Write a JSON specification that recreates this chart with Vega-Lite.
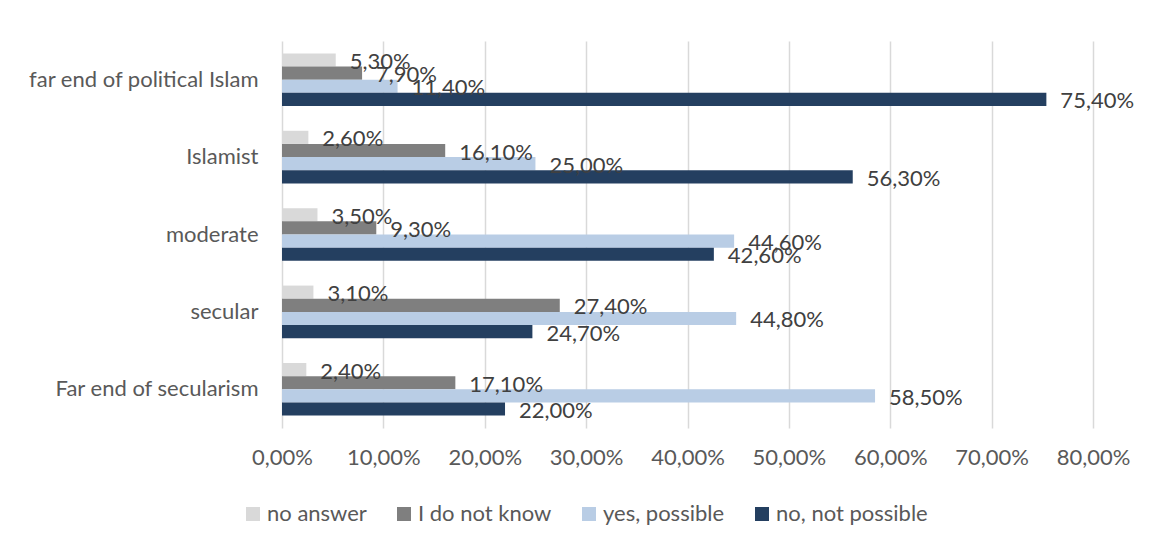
{
  "$schema": "https://vega.github.io/schema/vega-lite/v6.json",
  "width": 811,
  "height": 387,
  "autosize": {"type": "none"},
  "padding": {"left": 282, "top": 41, "right": 59, "bottom": 115},
  "background": "white",
  "config": {
    "locale": {"number": {"decimal": ",", "thousands": ".", "grouping": [3], "currency": ["", " €"]}},
    "view": {"stroke": null},
    "font": "Lato"
  },
  "data": {"values": [
    {"cat": "far end of political Islam", "series": "no answer", "v": 0.053},
    {"cat": "far end of political Islam", "series": "I do not know", "v": 0.079},
    {"cat": "far end of political Islam", "series": "yes, possible", "v": 0.114},
    {"cat": "far end of political Islam", "series": "no, not possible", "v": 0.754},
    {"cat": "Islamist", "series": "no answer", "v": 0.026},
    {"cat": "Islamist", "series": "I do not know", "v": 0.161},
    {"cat": "Islamist", "series": "yes, possible", "v": 0.25},
    {"cat": "Islamist", "series": "no, not possible", "v": 0.563},
    {"cat": "moderate", "series": "no answer", "v": 0.035},
    {"cat": "moderate", "series": "I do not know", "v": 0.093},
    {"cat": "moderate", "series": "yes, possible", "v": 0.446},
    {"cat": "moderate", "series": "no, not possible", "v": 0.426},
    {"cat": "secular", "series": "no answer", "v": 0.031},
    {"cat": "secular", "series": "I do not know", "v": 0.274},
    {"cat": "secular", "series": "yes, possible", "v": 0.448},
    {"cat": "secular", "series": "no, not possible", "v": 0.247},
    {"cat": "Far end of secularism", "series": "no answer", "v": 0.024},
    {"cat": "Far end of secularism", "series": "I do not know", "v": 0.171},
    {"cat": "Far end of secularism", "series": "yes, possible", "v": 0.585},
    {"cat": "Far end of secularism", "series": "no, not possible", "v": 0.22}
  ]},
  "encoding": {
    "y": {
      "field": "cat", "type": "nominal",
      "sort": ["far end of political Islam", "Islamist", "moderate", "secular", "Far end of secularism"],
      "scale": {"paddingInner": 0.32, "paddingOuter": 0.16},
      "axis": {"title": null, "ticks": false, "domain": false, "labelFontSize": 22, "labelColor": "#595959", "labelPadding": 24, "labelLimit": 400}
    },
    "yOffset": {
      "field": "series", "type": "nominal",
      "sort": ["no answer", "I do not know", "yes, possible", "no, not possible"],
      "scale": {"paddingInner": 0, "paddingOuter": 0}
    },
    "x": {
      "field": "v", "type": "quantitative",
      "scale": {"domain": [0, 0.8], "nice": false},
      "axis": {"title": null, "format": ".2%", "values": [0, 0.1, 0.2, 0.3, 0.4, 0.5, 0.6, 0.7, 0.8], "labelOverlap": false, "labelFlush": false, "ticks": false, "domain": false, "gridColor": "#d9d9d9", "gridWidth": 1.5, "labelFontSize": 22, "labelColor": "#595959", "labelPadding": 19}
    }
  },
  "layer": [
    {
      "mark": {"type": "bar"},
      "encoding": {
        "color": {
          "field": "series", "type": "nominal",
          "sort": ["no answer", "I do not know", "yes, possible", "no, not possible"],
          "scale": {"domain": ["no answer", "I do not know", "yes, possible", "no, not possible"], "range": ["#d9d9d9", "#7f7f7f", "#b9cde5", "#243f60"]},
          "legend": {"title": null, "orient": "none", "legendX": -40, "legendY": 462, "direction": "horizontal", "symbolType": "square", "symbolSize": 196, "symbolStrokeWidth": 0, "labelFontSize": 22, "labelColor": "#595959", "columnPadding": 26, "labelOffset": 3}
        }
      }
    },
    {
      "mark": {"type": "text", "align": "left", "baseline": "middle", "dx": 14, "dy": 2, "fontSize": 22, "color": "#404040"},
      "encoding": {"text": {"field": "v", "type": "quantitative", "format": ".2%"}}
    }
  ]
}
